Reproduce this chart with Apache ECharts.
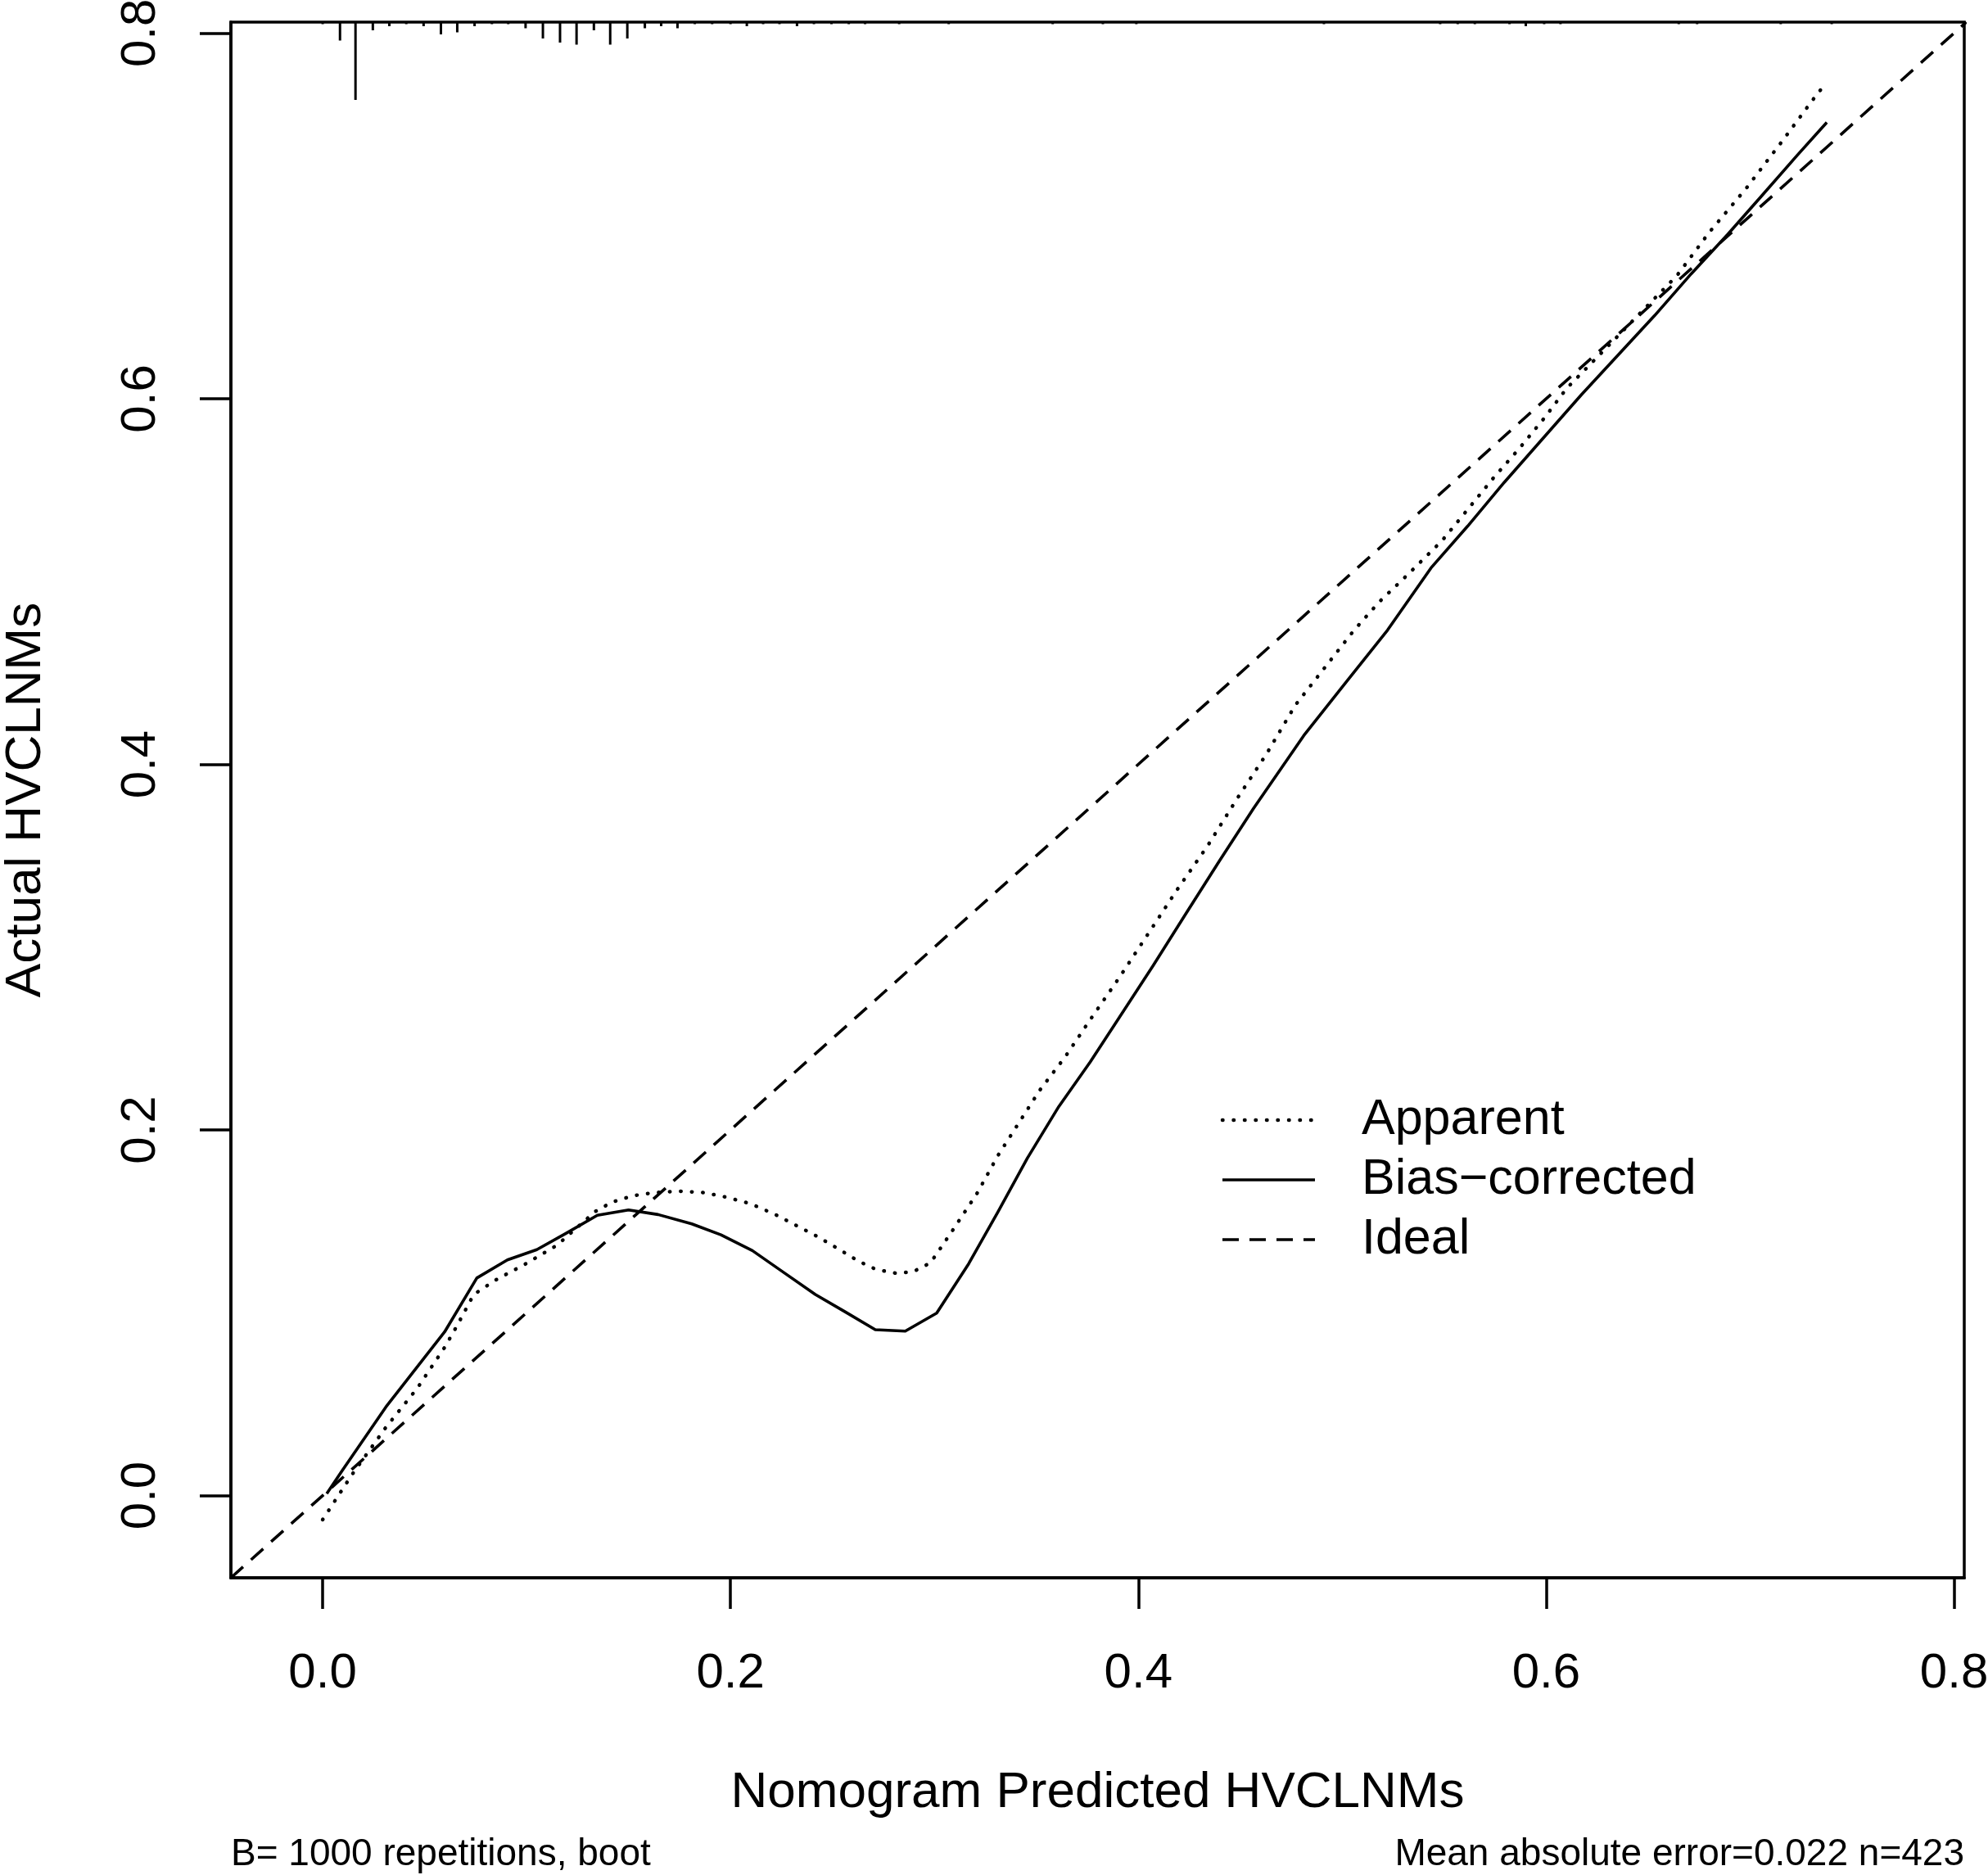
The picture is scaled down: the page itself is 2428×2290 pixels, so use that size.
<!DOCTYPE html>
<html>
<head>
<meta charset="utf-8">
<title>Calibration curve</title>
<script src="https://cdn.jsdelivr.net/npm/echarts@6/dist/echarts.min.js"></script>
<style>
  html, body { margin: 0; padding: 0; background: #fff; }
  #main { width: 2428px; height: 2290px; }
</style>
</head>
<body>
<div id="main"></div>
<script>
// axis ticks
var xTicks = [0, 0.2, 0.4, 0.6, 0.8];
var yTicks = [0, 0.2, 0.4, 0.6, 0.8];

// apparent calibration (dotted)
var apparentX = [0.0, 0.0145, 0.031, 0.0464, 0.0598, 0.0659, 0.0741, 0.085, 0.100, 0.115, 0.1337, 0.1419, 0.1522, 0.1625, 0.1748, 0.1871, 0.1984, 0.2097, 0.222, 0.2323, 0.2426, 0.2529, 0.2631, 0.2713, 0.2816, 0.2898, 0.298, 0.3083, 0.3209, 0.3311, 0.3517, 0.364, 0.3764, 0.3907, 0.4051, 0.4195, 0.4339, 0.4483, 0.4627, 0.477, 0.4914, 0.5058, 0.5181, 0.5325, 0.5489, 0.5615, 0.574, 0.5866, 0.5992, 0.61, 0.628, 0.646, 0.664, 0.6801, 0.6981, 0.716, 0.7304, 0.7376];
var apparentY = [-0.0132, 0.0116, 0.0373, 0.0587, 0.081, 0.0929, 0.11, 0.118, 0.127, 0.137, 0.1554, 0.1605, 0.164, 0.1657, 0.1665, 0.1657, 0.1631, 0.1597, 0.1537, 0.1477, 0.1417, 0.1349, 0.128, 0.1237, 0.1215, 0.1226, 0.1272, 0.144, 0.1653, 0.1859, 0.2218, 0.2398, 0.2603, 0.2834, 0.3078, 0.3322, 0.3553, 0.381, 0.4054, 0.4324, 0.4529, 0.4734, 0.4888, 0.5042, 0.5223, 0.5394, 0.5565, 0.5725, 0.5896, 0.6056, 0.6261, 0.6467, 0.6672, 0.6912, 0.7151, 0.7413, 0.763, 0.7733];

// bias-corrected calibration (solid)
var biasX = [0.002, 0.0094, 0.031, 0.0598, 0.0756, 0.0906, 0.105, 0.1193, 0.1347, 0.150, 0.1645, 0.181, 0.1953, 0.2107, 0.2261, 0.2416, 0.256, 0.271, 0.2857, 0.3011, 0.3168, 0.3311, 0.3456, 0.361, 0.3764, 0.3907, 0.4072, 0.4236, 0.440, 0.4565, 0.4811, 0.5017, 0.5222, 0.5435, 0.5615, 0.5794, 0.5974, 0.6172, 0.6352, 0.6532, 0.6711, 0.6891, 0.7053, 0.7232, 0.7376];
var biasY = [0.001, 0.0133, 0.0484, 0.0895, 0.119, 0.1289, 0.1345, 0.1434, 0.1533, 0.1562, 0.1537, 0.1486, 0.1426, 0.134, 0.122, 0.110, 0.1006, 0.0907, 0.0899, 0.0998, 0.1268, 0.155, 0.1846, 0.2128, 0.2372, 0.2616, 0.2898, 0.3188, 0.3476, 0.3759, 0.4157, 0.4447, 0.4734, 0.5074, 0.5303, 0.5542, 0.577, 0.6021, 0.6238, 0.6455, 0.6683, 0.69, 0.7105, 0.7333, 0.7511];

// ideal line
var idealX = [-0.045, 0.806];
var idealY = [-0.045, 0.806];

// spike histogram of predicted values along the top
var rugX = [0.0, 0.0085, 0.0161, 0.0246, 0.0327, 0.041, 0.0495, 0.058, 0.066, 0.0745, 0.083, 0.091, 0.0995, 0.108, 0.1164, 0.1245, 0.133, 0.141, 0.1494, 0.158, 0.166, 0.174, 0.1825, 0.191, 0.2, 0.208, 0.216, 0.224, 0.2326, 0.2409, 0.2495, 0.258, 0.266, 0.2827, 0.307, 0.358, 0.3826, 0.399, 0.491, 0.548, 0.5566, 0.565, 0.582, 0.59, 0.599, 0.607, 0.665, 0.674, 0.715, 0.74];
var rugCount = [1, 9, 38, 4, 2, 1, 2, 6, 5, 2, 1, 1, 3, 8, 10, 11, 4, 11, 8, 3, 2, 3, 1, 1, 1, 2, 1, 1, 2, 1, 1, 1, 1, 1, 1, 1, 1, 1, 1, 1, 1, 1, 1, 2, 1, 1, 1, 1, 1, 1];

var X_MIN = -0.045, X_MAX = 0.805;
var Y_MIN = -0.045, Y_MAX = 0.806;
var RUG_UNIT = 0.00112; // y units per count
var FONT = "'Liberation Sans', Arial, sans-serif";

function zip(a, b) { return a.map(function (v, i) { return [v, b[i]]; }); }

var chart = echarts.init(document.getElementById('main'));

var axisCommon = {
  type: 'value',
  splitLine: { show: false },
  axisLine: { show: true, onZero: false, lineStyle: { color: '#000', width: 3.5 } },
  axisTick: { show: true, length: 38, lineStyle: { color: '#000', width: 3.5 } },
  nameLocation: 'middle',
  nameTextStyle: { color: '#000', fontSize: 62, fontFamily: FONT }
};

var legendRows = [
  { y: 1368, text: 'Apparent', dash: [0.5, 13], cap: 'round', w: 4.5 },
  { y: 1441, text: 'Bias\u2212corrected', dash: null, cap: 'butt', w: 3.6 },
  { y: 1514, text: 'Ideal', dash: [20, 13], cap: 'butt', w: 3.6 }
];
var graphics = [];
legendRows.forEach(function (r) {
  graphics.push({
    type: 'line', silent: true,
    shape: { x1: 1493, y1: r.y, x2: 1606, y2: r.y },
    style: { stroke: '#000', lineWidth: r.w, lineDash: r.dash, lineCap: r.cap }
  });
  graphics.push({
    type: 'text', silent: true, x: 1663, y: r.y,
    style: { text: r.text, fill: '#000', font: '61px ' + FONT, textAlign: 'left', textVerticalAlign: 'middle' }
  });
});
graphics.push({
  type: 'text', silent: true, x: 282, y: 2265,
  style: { text: 'B= 1000 repetitions, boot', fill: '#000', font: '46px ' + FONT, textAlign: 'left', textVerticalAlign: 'middle' }
});
graphics.push({
  type: 'text', silent: true, x: 2399, y: 2265,
  style: { text: 'Mean absolute error=0.022 n=423', fill: '#000', font: '46px ' + FONT, textAlign: 'right', textVerticalAlign: 'middle' }
});

var option = {
  backgroundColor: '#fff',
  animation: false,
  grid: {
    left: 282, top: 27, width: 2117, height: 1900,
    outerBoundsMode: 'none', containLabel: false,
    show: true, borderColor: '#000', borderWidth: 3.5, backgroundColor: 'transparent'
  },
  xAxis: Object.assign({}, axisCommon, {
    min: X_MIN, max: X_MAX,
    name: 'Nomogram Predicted HVCLNMs',
    nameGap: 232,
    axisTick: Object.assign({}, axisCommon.axisTick, { customValues: xTicks }),
    axisLabel: {
      customValues: xTicks, margin: 87, color: '#000', fontSize: 60, fontFamily: FONT,
      formatter: function (v) { return v.toFixed(1); }
    }
  }),
  yAxis: Object.assign({}, axisCommon, {
    min: Y_MIN, max: Y_MAX,
    name: 'Actual HVCLNMs',
    nameGap: 219,
    axisTick: Object.assign({}, axisCommon.axisTick, { customValues: yTicks }),
    axisLabel: {
      customValues: yTicks, margin: 80, rotate: 90, color: '#000', fontSize: 60, fontFamily: FONT,
      formatter: function (v) { return v.toFixed(1); }
    }
  }),
  graphic: graphics,
  series: [
    {
      name: 'Ideal', type: 'line', data: zip(idealX, idealY), symbol: 'none', clip: true,
      lineStyle: { color: '#000', width: 3.6, type: [20, 13] }
    },
    {
      name: 'Apparent', type: 'line', data: zip(apparentX, apparentY), symbol: 'none',
      lineStyle: { color: '#000', width: 4.5, type: [0.5, 13], cap: 'round' }
    },
    {
      name: 'Bias-corrected', type: 'line', data: zip(biasX, biasY), symbol: 'none',
      lineStyle: { color: '#000', width: 3.6, type: 'solid', join: 'round' }
    },
    {
      name: 'spikes', type: 'custom', silent: true,
      data: rugX.map(function (x, i) { return [x, Y_MAX, rugCount[i]]; }),
      encode: { x: 0, y: 1 },
      renderItem: function (params, api) {
        var x = api.value(0);
        var top = api.coord([x, Y_MAX]);
        var bot = api.coord([x, Y_MAX - api.value(2) * RUG_UNIT]);
        return {
          type: 'line',
          shape: { x1: top[0], y1: top[1], x2: bot[0], y2: bot[1] },
          style: { stroke: '#000', lineWidth: 3 }
        };
      }
    }
  ]
};

chart.setOption(option);
</script>
</body>
</html>
